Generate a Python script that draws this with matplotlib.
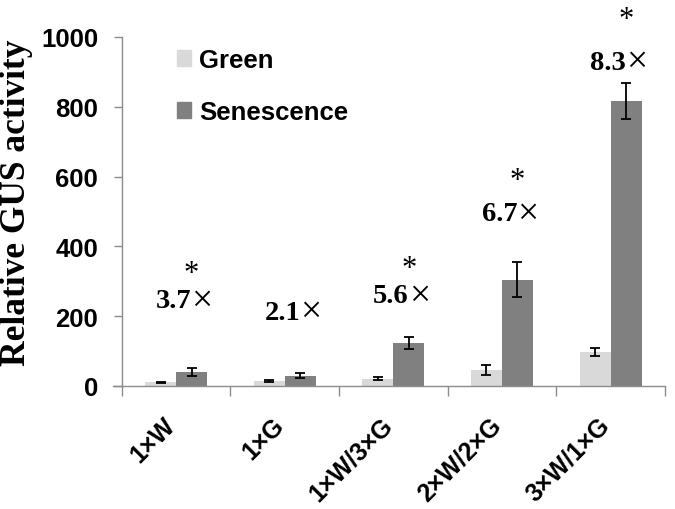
import matplotlib
matplotlib.use("Agg")
import matplotlib.pyplot as plt
from matplotlib.patches import Patch
from matplotlib.transforms import ScaledTranslation
import numpy as np

categories = ["1×W", "1×G", "1×W/3×G", "2×W/2×G", "3×W/1×G"]
green = [10, 13, 21, 45, 97]
green_err = [2.5, 3, 4, 14, 12]
senescence = [41, 30, 122, 305, 817]
senescence_err = [11, 8, 17, 51, 52]
fold_labels = ["3.7", "2.1", "5.6", "6.7", "8.3"]
fold_y = [244, 212, 258, 493, 928]
star_flags = [True, False, True, True, True]
star_y = [322, None, 336, 588, 1050]
yticks = [0, 200, 400, 600, 800, 1000]

fig = plt.figure(figsize=(6.75, 5.1), dpi=100)
ax = fig.add_axes([0.1803, 0.2412, 0.985 - 0.1803, 0.9255 - 0.2412])

x = np.arange(len(categories))
w = 0.285
gray_axis = "#8c8c8c"
ekw = dict(ecolor="black", elinewidth=1.3, capsize=3.6, capthick=1.3)

ax.bar(x - w / 2, green, w, color="#d9d9d9", yerr=green_err, error_kw=ekw,
       label="Green", zorder=2)
ax.bar(x + w / 2, senescence, w, color="#808080", yerr=senescence_err,
       error_kw=ekw, label="Senescence", zorder=2)

ax.set_xlim(-0.5, len(categories) - 0.5)
ax.set_ylim(0, 1000)

for s in ["top", "right"]:
    ax.spines[s].set_visible(False)
for s in ["left", "bottom"]:
    ax.spines[s].set_color(gray_axis)
    ax.spines[s].set_linewidth(1.0)
ax.spines["bottom"].set_bounds(-0.58, len(categories) - 0.5)

ax.set_yticks(yticks)
ax.set_yticklabels([str(v) for v in yticks], fontfamily="Liberation Sans",
                   fontweight="bold", fontsize=18.5)
ax.tick_params(axis="y", direction="out", length=6, width=1.0,
               color=gray_axis, pad=11)

ax.set_xticks(x)
ax.set_xticks(np.arange(len(categories) + 1) - 0.5, minor=True)
ax.tick_params(axis="x", which="major", length=0, pad=19)
ax.tick_params(axis="x", which="minor", direction="out", length=7,
               width=1.0, color=gray_axis)
ax.set_xticklabels(categories, rotation=45, ha="right", va="top",
                   fontfamily="Liberation Sans", fontweight="bold",
                   fontsize=18)
for lbl in ax.get_xticklabels():
    lbl.set_transform(lbl.get_transform() + ScaledTranslation(4 / 100, 0, fig.dpi_scale_trans))

# fold-change annotations
for i in range(len(categories)):
    xc = x[i] + w / 2
    ax.text(xc, fold_y[i], fold_labels[i], ha="right", va="center",
            fontfamily="Liberation Serif", fontweight="bold", fontsize=20.5,
            clip_on=False)
    ax.text(xc, fold_y[i], "×", ha="left", va="center",
            fontfamily="Liberation Serif", fontsize=27, clip_on=False)
    if star_flags[i]:
        ax.text(xc, star_y[i], "*", ha="center", va="center",
                fontfamily="Liberation Serif", fontsize=22, clip_on=False)

fig.text(17 / 675, 1 - 203 / 510, "Relative GUS activity", rotation=90,
         ha="center", va="center", fontfamily="Liberation Serif",
         fontweight="bold", fontsize=25.5)

handles = [Patch(color="#d9d9d9"), Patch(color="#808080")]
fig.legend(handles, ["Green", "Senescence"], loc="upper left",
           bbox_to_anchor=(177 / 675, 1 - 49 / 510),
           bbox_transform=fig.transFigure, frameon=False,
           prop=dict(family="Liberation Sans", weight="bold", size=18.5),
           handlelength=0.55, handleheight=0.55, handletextpad=0.3,
           labelspacing=1.1, borderpad=0, borderaxespad=0)

fig.savefig("out.png", dpi=100)
